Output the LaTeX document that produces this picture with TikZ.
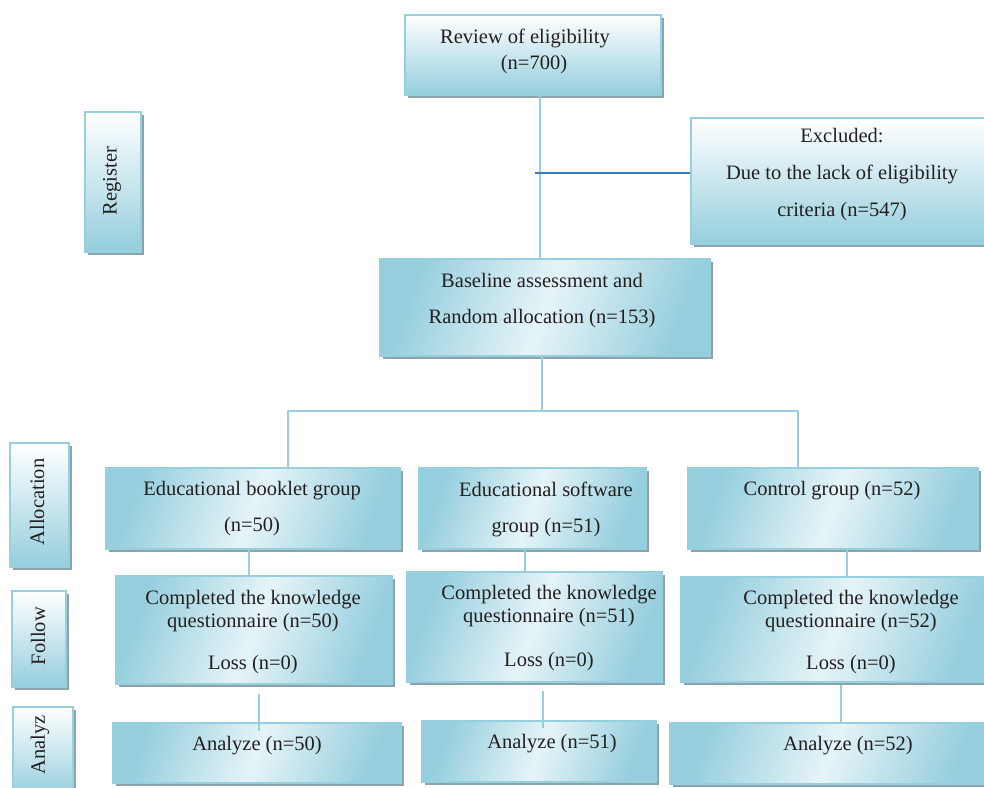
\documentclass[tikz,border=0pt]{standalone}
\usepackage{fontspec}
\setmainfont{Liberation Serif}
\usetikzlibrary{shadows,calc}
\definecolor{bdr}{HTML}{96D0DF}
\definecolor{dk}{HTML}{95CEDD}
\definecolor{lt}{HTML}{E6F4F8}
\definecolor{shd}{HTML}{8CA3AB}
\definecolor{txt}{HTML}{231F20}
\definecolor{exl}{HTML}{3C7DB8}
\tikzset{
  boxbase/.style={draw=bdr, line width=1.6pt, inner sep=0pt, anchor=north west,
    drop shadow={shadow xshift=3pt, shadow yshift=-3pt, fill=shd, opacity=1}},
  vbox/.style={boxbase, top color=white, bottom color=dk},
  dbox/.style={boxbase, top color=dk, bottom color=dk, middle color=lt, shading angle=70},
  txtn/.style={text=txt, font=\fontsize{20.5}{36}\selectfont, align=center, inner sep=0pt},
  tight/.style={txtn, font=\fontsize{20.5}{23}\selectfont},
  side/.style={txtn, rotate=90},
  conn/.style={draw=bdr, line width=2pt},
  exline/.style={draw=exl, line width=1.5pt},
}
\begin{document}
\begin{tikzpicture}[x=1pt,y=-1pt]
\useasboundingbox (0,0) rectangle (984,787);
% boxes
\node[vbox, minimum width=256pt, minimum height=80pt] (rev) at (404,14) {};
\node[vbox, minimum width=296pt, minimum height=126pt] (excl) at (690,117) {};
\node[vbox, minimum width=56pt, minimum height=140pt] (reg) at (84,111) {};
\node[dbox, minimum width=330pt, minimum height=97pt] (base) at (379,258) {};
\node[vbox, minimum width=59pt, minimum height=124pt] (alloc) at (9,442) {};
\node[vbox, minimum width=54pt, minimum height=96pt] (foll) at (11,590) {};
\node[vbox, minimum width=60pt, minimum height=90pt] (anz) at (12,706) {};
\node[dbox, minimum width=294pt, minimum height=81pt] (book) at (105,467) {};
\node[dbox, minimum width=227pt, minimum height=81pt] (soft) at (418,467) {};
\node[dbox, minimum width=290pt, minimum height=81pt] (ctrl) at (687,467) {};
\node[dbox, minimum width=276pt, minimum height=108pt] (comp1) at (115,575) {};
\node[dbox, minimum width=255pt, minimum height=110pt] (comp2) at (406,571) {};
\node[dbox, minimum width=310pt, minimum height=105pt] (comp3) at (680,576) {};
\node[dbox, minimum width=288pt, minimum height=60pt] (ana1) at (112,722) {};
\node[dbox, minimum width=234pt, minimum height=61pt] (ana2) at (421,720) {};
\node[dbox, minimum width=320pt, minimum height=61pt] (ana3) at (669,722) {};
% texts
\node[txtn] (trev) at (525,51) {Review of eligibility\\[-10pt]\hspace*{18pt}(n=700)};
\node[txtn] (texcl) at (842,175) {Excluded:\\[1pt]Due to the lack of eligibility\\[1pt]criteria (n=547)};
\node[txtn] (tbase) at (542,301) {Baseline assessment and\\Random allocation (n=153)};
\node[side] (treg) at (112,181) {Register};
\node[side] (talloc) at (37,502) {Allocation};
\node[side] (tfoll) at (38,636) {Follow};
\node[side] (tanz) at (40,745) {Analyz};
\node[txtn] (tbook) at (252,509) {Educational booklet group\\(n=50)};
\node[txtn] (tsoft) at (546,509) {Educational software\\group (n=51)};
\node[txtn] (tctrl) at (832,491) {Control group (n=52)};
\node[tight] (tc1) at (253,632) {Completed the knowledge\\questionnaire (n=50)\\[19pt]Loss (n=0)};
\node[tight] (tc2) at (549,628) {Completed the knowledge\\questionnaire (n=51)\\[21pt]Loss (n=0)};
\node[tight] (tc3) at (851,632) {Completed the knowledge\\questionnaire (n=52)\\[19pt]Loss (n=0)};
\node[txtn] (ta1) at (257,746) {Analyze (n=50)};
\node[txtn] (ta2) at (552,744) {Analyze (n=51)};
\node[txtn] (ta3) at (848,746) {Analyze (n=52)};
% connectors
\draw[conn] ([xshift=7pt]rev.south) -- ([xshift=7pt]rev.south |- base.north);
\draw[exline] ([yshift=8pt]excl.west) -- ++(-155,0);
\coordinate (busL) at (288,411);
\coordinate (busR) at (798,411);
\draw[conn] ([xshift=-3pt]base.south) -- ([xshift=-3pt]base.south |- busL);
\draw[conn] (busL) -- (busR);
\draw[conn] (busL) -- (busL |- book.north);
\draw[conn] (busR) -- (busR |- ctrl.north);
\draw[conn] ([xshift=-4pt]book.south) -- ([xshift=-4pt]book.south |- comp1.north);
\draw[conn] ([xshift=-7pt]soft.south) -- ([xshift=-7pt]soft.south |- comp2.north);
\draw[conn] ([xshift=14pt]ctrl.south) -- ([xshift=14pt]ctrl.south |- comp3.north);
\draw[conn] ([xshift=5pt,yshift=-9pt]comp1.south) -- ([xshift=5pt,yshift=-9pt]comp1.south |- ana1.north);
\draw[conn] ([xshift=9pt,yshift=-8pt]comp2.south) -- ([xshift=9pt,yshift=-8pt]comp2.south |- ana2.north);
\draw[conn] ([xshift=5pt,yshift=-2pt]comp3.south) -- ([xshift=5pt,yshift=-2pt]comp3.south |- ana3.north);
\end{tikzpicture}
\end{document}
